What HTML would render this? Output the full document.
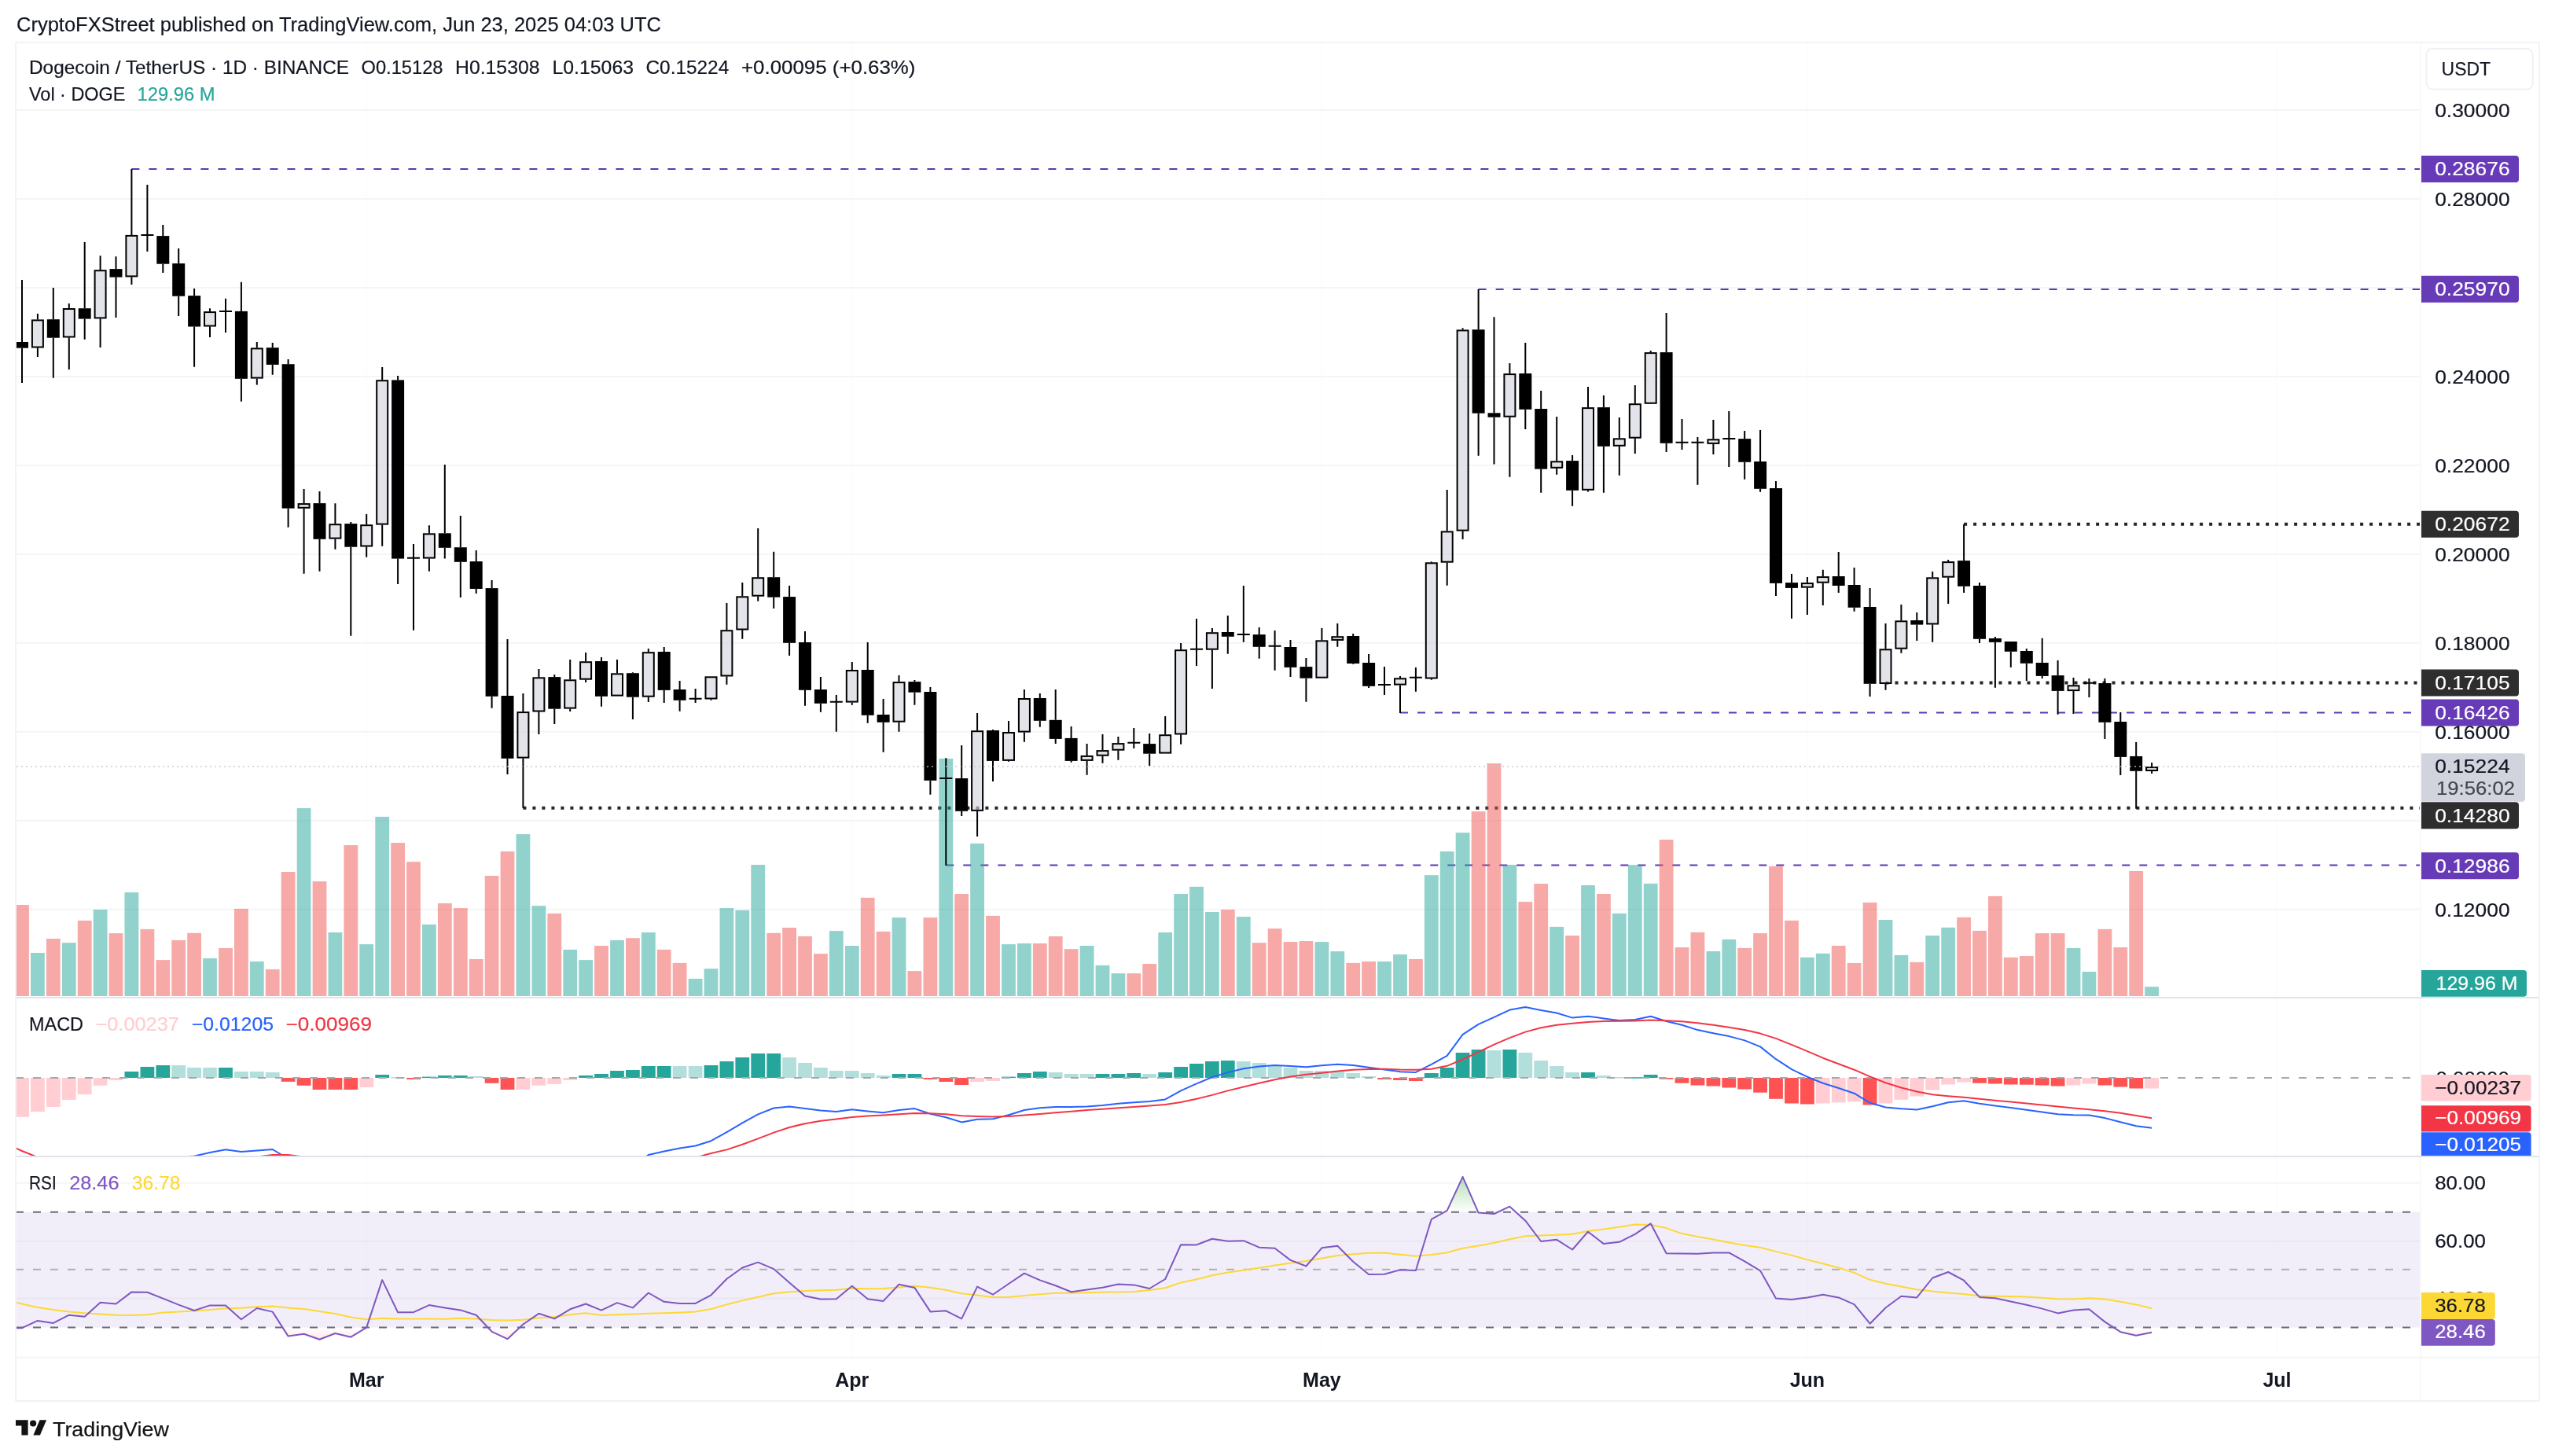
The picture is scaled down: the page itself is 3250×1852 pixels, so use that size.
<!DOCTYPE html>
<html lang="en"><head><meta charset="utf-8"><title>DOGEUSDT chart</title>
<style>html,body{margin:0;padding:0;background:#fff;}body{width:3250px;height:1852px;overflow:hidden;font-family:"Liberation Sans", sans-serif;}svg{display:block;will-change:transform;}text{font-family:"Liberation Sans", sans-serif;}</style>
</head><body>
<svg width="3250" height="1852" viewBox="0 0 3250 1852">
<rect x="0" y="0" width="3250" height="1852" fill="#ffffff"/>
<defs>
<clipPath id="cpMain"><rect x="20" y="54" width="3059" height="1215"/></clipPath>
<clipPath id="cpMacd"><rect x="20" y="1270" width="3059" height="200"/></clipPath>
<clipPath id="cpRsi"><rect x="20" y="1472" width="3059" height="254"/></clipPath>
<clipPath id="cpAxMacd"><rect x="3079" y="1270" width="151" height="200"/></clipPath>
<linearGradient id="gOB" gradientUnits="userSpaceOnUse" x1="0" y1="1436" x2="0" y2="1541.8"><stop offset="0" stop-color="#4caf50" stop-opacity="1"/><stop offset="1" stop-color="#4caf50" stop-opacity="0"/></linearGradient>
<linearGradient id="gOS" gradientUnits="userSpaceOnUse" x1="0" y1="1688.6" x2="0" y2="1798.7"><stop offset="0" stop-color="#ff5252" stop-opacity="0"/><stop offset="1" stop-color="#ff5252" stop-opacity="1"/></linearGradient>
</defs>
<text x="21" y="39.7" font-size="25" fill="#131722" stroke="#131722" stroke-width="0.2" textLength="820" lengthAdjust="spacingAndGlyphs">CryptoFXStreet published on TradingView.com, Jun 23, 2025 04:03 UTC</text>
<g stroke="#fcfcfd" stroke-width="2" fill="none">
<path d="M466.2 54 V1726"/>
<path d="M1083.8 54 V1726"/>
<path d="M1681.4 54 V1726"/>
<path d="M2298.9 54 V1726"/>
<path d="M2896.5 54 V1726"/>
</g>
<g stroke="#f5f5f7" stroke-width="2" fill="none">
<path d="M20 140 H3079"/>
<path d="M20 253 H3079"/>
<path d="M20 365.9 H3079"/>
<path d="M20 478.9 H3079"/>
<path d="M20 591.9 H3079"/>
<path d="M20 704.9 H3079"/>
<path d="M20 817.8 H3079"/>
<path d="M20 930.8 H3079"/>
<path d="M20 1043.8 H3079"/>
<path d="M20 1156.7 H3079"/>
<path d="M20 1504.7 H3079"/>
<path d="M20 1578.8 H3079"/>
<path d="M20 1651.6 H3079"/>
</g>
<rect x="20" y="1541.8" width="3059" height="146.8" fill="#7e57c2" fill-opacity="0.1"/>
<g clip-path="url(#cpMain)">
<g stroke="#5e35b1" stroke-width="2" stroke-dasharray="10 12" fill="none">
<path d="M167.4 215 H3079"/>
<path d="M1880.6 368 H3079"/>
<path d="M1781 906.5 H3079"/>
<path d="M1203.3 1100.5 H3079"/>
</g>
<g stroke="#262626" stroke-width="4" stroke-dasharray="4 8" fill="none">
<path d="M2498.1 666.8 H3079"/>
<path d="M2398.5 868.5 H3079"/>
<path d="M665.4 1027.8 H3079"/>
</g>
<g fill="#ef5350" fill-opacity="0.5">
<rect x="19.1" y="1151" width="17.8" height="116"/>
<rect x="58.9" y="1194" width="17.8" height="73"/>
<rect x="98.8" y="1171" width="17.8" height="96"/>
<rect x="138.6" y="1187.1" width="17.8" height="79.9"/>
<rect x="178.5" y="1181.9" width="17.8" height="85.1"/>
<rect x="198.4" y="1221.1" width="17.8" height="45.9"/>
<rect x="218.3" y="1195.9" width="17.8" height="71.1"/>
<rect x="238.2" y="1186.8" width="17.8" height="80.2"/>
<rect x="278.1" y="1206" width="17.8" height="61"/>
<rect x="298" y="1155.9" width="17.8" height="111.1"/>
<rect x="337.8" y="1232.9" width="17.8" height="34.1"/>
<rect x="357.7" y="1109" width="17.8" height="158"/>
<rect x="397.6" y="1121.1" width="17.8" height="145.9"/>
<rect x="437.4" y="1075.1" width="17.8" height="191.9"/>
<rect x="497.2" y="1072.1" width="17.8" height="194.9"/>
<rect x="517.1" y="1096.2" width="17.8" height="170.8"/>
<rect x="556.9" y="1149" width="17.8" height="118"/>
<rect x="576.9" y="1155.1" width="17.8" height="111.9"/>
<rect x="596.8" y="1220" width="17.8" height="47"/>
<rect x="616.7" y="1114" width="17.8" height="153"/>
<rect x="636.6" y="1083" width="17.8" height="184"/>
<rect x="696.4" y="1161.9" width="17.8" height="105.1"/>
<rect x="756.1" y="1203" width="17.8" height="64"/>
<rect x="796" y="1193.2" width="17.8" height="73.8"/>
<rect x="835.8" y="1207.9" width="17.8" height="59.1"/>
<rect x="855.7" y="1224.9" width="17.8" height="42.1"/>
<rect x="975.3" y="1186.8" width="17.8" height="80.2"/>
<rect x="995.2" y="1180" width="17.8" height="87"/>
<rect x="1015.1" y="1191" width="17.8" height="76"/>
<rect x="1035" y="1213.2" width="17.8" height="53.8"/>
<rect x="1094.8" y="1141.9" width="17.8" height="125.1"/>
<rect x="1114.7" y="1184.9" width="17.8" height="82.1"/>
<rect x="1154.5" y="1235.1" width="17.8" height="31.9"/>
<rect x="1174.5" y="1167.1" width="17.8" height="99.9"/>
<rect x="1214.3" y="1137" width="17.8" height="130"/>
<rect x="1254.1" y="1164.9" width="17.8" height="102.1"/>
<rect x="1313.9" y="1200" width="17.8" height="67"/>
<rect x="1333.8" y="1191" width="17.8" height="76"/>
<rect x="1353.7" y="1207.1" width="17.8" height="59.9"/>
<rect x="1433.4" y="1238.1" width="17.8" height="28.9"/>
<rect x="1453.3" y="1226" width="17.8" height="41"/>
<rect x="1552.9" y="1157" width="17.8" height="110"/>
<rect x="1592.8" y="1199.2" width="17.8" height="67.8"/>
<rect x="1612.7" y="1181.1" width="17.8" height="85.9"/>
<rect x="1632.6" y="1198.1" width="17.8" height="68.9"/>
<rect x="1652.5" y="1197" width="17.8" height="70"/>
<rect x="1712.3" y="1224.9" width="17.8" height="42.1"/>
<rect x="1732.2" y="1223" width="17.8" height="44"/>
<rect x="1792" y="1220" width="17.8" height="47"/>
<rect x="1871.7" y="1032.1" width="17.8" height="234.9"/>
<rect x="1891.6" y="971" width="17.8" height="296"/>
<rect x="1931.4" y="1147.1" width="17.8" height="119.9"/>
<rect x="1951.3" y="1124.1" width="17.8" height="142.9"/>
<rect x="1991.2" y="1190.1" width="17.8" height="76.9"/>
<rect x="2031" y="1137" width="17.8" height="130"/>
<rect x="2110.7" y="1068" width="17.8" height="199"/>
<rect x="2130.6" y="1205" width="17.8" height="62"/>
<rect x="2150.5" y="1185.9" width="17.8" height="81.1"/>
<rect x="2210.3" y="1205.9" width="17.8" height="61.1"/>
<rect x="2230.2" y="1187.1" width="17.8" height="79.9"/>
<rect x="2250.1" y="1101.9" width="17.8" height="165.1"/>
<rect x="2270.1" y="1170.9" width="17.8" height="96.1"/>
<rect x="2329.8" y="1203" width="17.8" height="64"/>
<rect x="2349.7" y="1225" width="17.8" height="42"/>
<rect x="2369.7" y="1148" width="17.8" height="119"/>
<rect x="2429.4" y="1223.9" width="17.8" height="43.1"/>
<rect x="2489.2" y="1166.8" width="17.8" height="100.2"/>
<rect x="2509.1" y="1183.9" width="17.8" height="83.1"/>
<rect x="2529" y="1139.9" width="17.8" height="127.1"/>
<rect x="2548.9" y="1217.8" width="17.8" height="49.2"/>
<rect x="2568.9" y="1216" width="17.8" height="51"/>
<rect x="2588.8" y="1187.1" width="17.8" height="79.9"/>
<rect x="2608.7" y="1187.1" width="17.8" height="79.9"/>
<rect x="2668.5" y="1181.9" width="17.8" height="85.1"/>
<rect x="2688.4" y="1205" width="17.8" height="62"/>
<rect x="2708.3" y="1108" width="17.8" height="159"/>
</g>
<g fill="#26a69a" fill-opacity="0.5">
<rect x="39" y="1212" width="17.8" height="55"/>
<rect x="78.9" y="1199.2" width="17.8" height="67.8"/>
<rect x="118.7" y="1157" width="17.8" height="110"/>
<rect x="158.5" y="1135.1" width="17.8" height="131.9"/>
<rect x="258.1" y="1218.9" width="17.8" height="48.1"/>
<rect x="317.9" y="1223" width="17.8" height="44"/>
<rect x="377.7" y="1027.9" width="17.8" height="239.1"/>
<rect x="417.5" y="1186" width="17.8" height="81"/>
<rect x="457.3" y="1201.1" width="17.8" height="65.9"/>
<rect x="477.3" y="1038.9" width="17.8" height="228.1"/>
<rect x="537" y="1175.9" width="17.8" height="91.1"/>
<rect x="656.5" y="1061.1" width="17.8" height="205.9"/>
<rect x="676.5" y="1152.1" width="17.8" height="114.9"/>
<rect x="716.3" y="1207.9" width="17.8" height="59.1"/>
<rect x="736.2" y="1221.1" width="17.8" height="45.9"/>
<rect x="776.1" y="1195.9" width="17.8" height="71.1"/>
<rect x="815.9" y="1186" width="17.8" height="81"/>
<rect x="875.7" y="1244.9" width="17.8" height="22.1"/>
<rect x="895.6" y="1232.1" width="17.8" height="34.9"/>
<rect x="915.5" y="1155.1" width="17.8" height="111.9"/>
<rect x="935.4" y="1157.8" width="17.8" height="109.2"/>
<rect x="955.3" y="1100" width="17.8" height="167"/>
<rect x="1054.9" y="1184.1" width="17.8" height="82.9"/>
<rect x="1074.9" y="1203" width="17.8" height="64"/>
<rect x="1134.6" y="1167.1" width="17.8" height="99.9"/>
<rect x="1194.4" y="964.9" width="17.8" height="302.1"/>
<rect x="1234.2" y="1072.9" width="17.8" height="194.1"/>
<rect x="1274.1" y="1201.1" width="17.8" height="65.9"/>
<rect x="1294" y="1200" width="17.8" height="67"/>
<rect x="1373.7" y="1203" width="17.8" height="64"/>
<rect x="1393.6" y="1227.9" width="17.8" height="39.1"/>
<rect x="1413.5" y="1238.1" width="17.8" height="28.9"/>
<rect x="1473.3" y="1186" width="17.8" height="81"/>
<rect x="1493.2" y="1137" width="17.8" height="130"/>
<rect x="1513.1" y="1127.9" width="17.8" height="139.1"/>
<rect x="1533" y="1160" width="17.8" height="107"/>
<rect x="1572.9" y="1166" width="17.8" height="101"/>
<rect x="1672.5" y="1198.1" width="17.8" height="68.9"/>
<rect x="1692.4" y="1210.1" width="17.8" height="56.9"/>
<rect x="1752.1" y="1223" width="17.8" height="44"/>
<rect x="1772.1" y="1214" width="17.8" height="53"/>
<rect x="1811.9" y="1113.2" width="17.8" height="153.8"/>
<rect x="1831.8" y="1083" width="17.8" height="184"/>
<rect x="1851.7" y="1059.2" width="17.8" height="207.8"/>
<rect x="1911.5" y="1100" width="17.8" height="167"/>
<rect x="1971.3" y="1178.9" width="17.8" height="88.1"/>
<rect x="2011.1" y="1126" width="17.8" height="141"/>
<rect x="2050.9" y="1161.9" width="17.8" height="105.1"/>
<rect x="2070.9" y="1100.2" width="17.8" height="166.8"/>
<rect x="2090.8" y="1123.9" width="17.8" height="143.1"/>
<rect x="2170.5" y="1210" width="17.8" height="57"/>
<rect x="2190.4" y="1194.9" width="17.8" height="72.1"/>
<rect x="2290" y="1217.8" width="17.8" height="49.2"/>
<rect x="2309.9" y="1212.8" width="17.8" height="54.2"/>
<rect x="2389.6" y="1170" width="17.8" height="97"/>
<rect x="2409.5" y="1214.9" width="17.8" height="52.1"/>
<rect x="2449.3" y="1190" width="17.8" height="77"/>
<rect x="2469.3" y="1179.8" width="17.8" height="87.2"/>
<rect x="2628.6" y="1205.9" width="17.8" height="61.1"/>
<rect x="2648.5" y="1236" width="17.8" height="31"/>
<rect x="2728.2" y="1255.1" width="17.8" height="11.9"/>
</g>
<g stroke="#000" stroke-width="2" fill="none">
<path d="M28 356.1 V435M28 442.7 V486.9"/>
<path d="M47.9 399 V406.6M47.9 442.3 V454"/>
<path d="M67.8 366 V406.2M67.8 429.7 V480.8"/>
<path d="M87.8 386 V392.2M87.8 429.3 V470"/>
<path d="M107.7 308.1 V392.2M107.7 405.6 V431.7"/>
<path d="M127.6 325.2 V343.4M127.6 405.2 V442"/>
<path d="M147.5 326.3 V342.1M147.5 352.6 V404"/>
<path d="M167.4 215 V299.1M167.4 352.2 V362"/>
<path d="M187.4 235 V320 M179.4 298.9 H195.4"/>
<path d="M207.3 286 V300.1M207.3 335.7 V346.9"/>
<path d="M227.2 316 V335.1M227.2 376.7 V402"/>
<path d="M247.1 367 V376.1M247.1 415.5 V466.8"/>
<path d="M267 392.2 V396.3M267 415.3 V428.9"/>
<path d="M287 379.8 V423 M279 395.9 H295"/>
<path d="M306.9 358.8 V395.9M306.9 481.8 V510.8"/>
<path d="M326.8 435 V442.6M326.8 481.4 V489.6"/>
<path d="M346.7 436 V442.2M346.7 463.9 V476.8"/>
<path d="M366.6 457 V463.2M366.6 646.6 V670.7"/>
<path d="M386.6 622 V640.3M386.6 646.6 V729.8"/>
<path d="M406.5 625 V640.1M406.5 685.8 V726.7"/>
<path d="M426.4 640.2 V666.4M426.4 685.4 V698.7"/>
<path d="M446.3 664 V666.1M446.3 695.7 V808.7"/>
<path d="M466.2 654.1 V667.4M466.2 695.3 V708.8"/>
<path d="M486.2 467 V483.4M486.2 667.4 V694.7"/>
<path d="M506.1 478 V483.4M506.1 710.6 V743"/>
<path d="M526 692.1 V801.7 M518 709.8 H534"/>
<path d="M545.9 668.2 V678.5M545.9 710.4 V726.7"/>
<path d="M565.8 591 V678.3M565.8 696.8 V710.6"/>
<path d="M585.8 656 V696.2M585.8 714.8 V759.9"/>
<path d="M605.7 700.1 V714.1M605.7 749 V754.9"/>
<path d="M625.6 738 V748.1M625.6 885.8 V900.7"/>
<path d="M645.5 813 V885M645.5 964.8 V985"/>
<path d="M665.4 882 V905.3M665.4 964.4 V1027.8"/>
<path d="M685.4 851 V861.5M685.4 905.3 V933.9"/>
<path d="M705.3 858 V861.1M705.3 901.7 V920.9"/>
<path d="M725.2 839 V864.5M725.2 901.4 V904.9"/>
<path d="M745.1 830 V841.4M745.1 864.5 V867.9"/>
<path d="M765 836 V841M765 885.8 V898.8"/>
<path d="M785 839 V856.5"/>
<path d="M804.9 855.2 V856.2M804.9 886.7 V914.9"/>
<path d="M824.8 824.9 V829.4M824.8 886.5 V892.9"/>
<path d="M844.7 823 V829M844.7 877.9 V893.9"/>
<path d="M864.6 866.1 V877M864.6 890.8 V904.8"/>
<path d="M884.6 876 V893.9 M876.6 888.8 H892.6"/>
<path d="M904.5 889.3 V890.8"/>
<path d="M924.4 767.1 V801.4M924.4 860.3 V870.8"/>
<path d="M944.3 741 V758.5M944.3 801.3 V812.8"/>
<path d="M964.2 672 V734.4M964.2 758.5 V764.8"/>
<path d="M984.2 701.8 V734.2M984.2 759.7 V773.9"/>
<path d="M1004.1 745.1 V759.1M1004.1 817.8 V833.9"/>
<path d="M1024 803 V817M1024 877.8 V897.8"/>
<path d="M1043.9 861.1 V877M1043.9 894.8 V905.8"/>
<path d="M1063.8 884.1 V930.7 M1055.8 892.8 H1071.8"/>
<path d="M1083.8 842.1 V852.2M1083.8 893.4 V896.7"/>
<path d="M1103.7 817 V852M1103.7 909.8 V919.8"/>
<path d="M1123.6 889 V909M1123.6 918.8 V956.8"/>
<path d="M1143.5 859 V867.3M1143.5 918.5 V930.8"/>
<path d="M1163.4 865 V867.1M1163.4 880.7 V896.8"/>
<path d="M1183.4 874 V880M1183.4 992.8 V1010.8"/>
<path d="M1203.3 964.2 V1100.8 M1195.3 990 H1211.3"/>
<path d="M1223.2 947.9 V990M1223.2 1031.8 V1038"/>
<path d="M1243.1 906.9 V929.4M1243.1 1031.6 V1063.9"/>
<path d="M1263 928 V929M1263 967.9 V993.9"/>
<path d="M1283 916.9 V931.2M1283 967.7 V968.7"/>
<path d="M1302.9 877.1 V888.2M1302.9 931.4 V943.8"/>
<path d="M1322.8 882 V888M1322.8 916.8 V924.8"/>
<path d="M1342.7 877.1 V915.8M1342.7 939.9 V945.9"/>
<path d="M1362.6 924 V938.9M1362.6 967.9 V969.8"/>
<path d="M1382.6 945.9 V961.1M1382.6 967.7 V985.8"/>
<path d="M1402.5 933.9 V954.3M1402.5 961.5 V970.8"/>
<path d="M1422.4 937 V945.3M1422.4 954.5 V966.7"/>
<path d="M1442.3 925.9 V951.9 M1434.3 944.8 H1450.3"/>
<path d="M1462.2 933 V946.1M1462.2 958.7 V973.9"/>
<path d="M1482.2 911 V934.4"/>
<path d="M1502.1 818 V826.4M1502.1 934.3 V946.8"/>
<path d="M1522 786.9 V846.9 M1514 825.8 H1530"/>
<path d="M1541.9 799.1 V804.4M1541.9 826.5 V875.9"/>
<path d="M1561.8 783 V804M1561.8 809.8 V831.8"/>
<path d="M1581.8 744.9 V816.8 M1573.8 806.9 H1589.8"/>
<path d="M1601.7 798 V807.1M1601.7 822.8 V837.8"/>
<path d="M1621.6 802 V852.8 M1613.6 821.7 H1629.6"/>
<path d="M1641.5 813.9 V823M1641.5 848.9 V860.9"/>
<path d="M1661.4 837 V848.1M1661.4 862.7 V892.8"/>
<path d="M1681.4 798.9 V814.5"/>
<path d="M1701.3 792.9 V809.4M1701.3 814.7 V822.8"/>
<path d="M1721.2 806.1 V809M1721.2 844 V844.8"/>
<path d="M1741.1 832 V843M1741.1 872.8 V874.9"/>
<path d="M1761 847.9 V884 M1753 871 H1769"/>
<path d="M1781 860.1 V862.5M1781 871.4 V907"/>
<path d="M1800.9 848.9 V879.8 M1792.9 861.7 H1808.9"/>
<path d="M1820.8 714.2 V715.5M1820.8 863.3 V864.8"/>
<path d="M1840.7 623.1 V675.6M1840.7 715.5 V744.8"/>
<path d="M1860.6 417.2 V419.6M1860.6 675.4 V685.9"/>
<path d="M1880.6 368.1 V419.2M1880.6 525.7 V579.7"/>
<path d="M1900.5 403.2 V525.3M1900.5 530.7 V590.6"/>
<path d="M1920.4 461.9 V475.3M1920.4 530.5 V606.7"/>
<path d="M1940.3 435.9 V475M1940.3 520.8 V545.9"/>
<path d="M1960.2 496.9 V520M1960.2 596.6 V626.7"/>
<path d="M1980.2 529.9 V586.5M1980.2 595.6 V603.8"/>
<path d="M2000.1 579.1 V586.1M2000.1 623.8 V643.8"/>
<path d="M2020 491.9 V518.3M2020 623.6 V625.6"/>
<path d="M2039.9 502.9 V518.1M2039.9 567.8 V626.7"/>
<path d="M2059.8 530.9 V557.5M2059.8 567.6 V604.8"/>
<path d="M2079.8 489.9 V513.4M2079.8 557.5 V577"/>
<path d="M2099.7 446 V448.3"/>
<path d="M2119.6 398 V448.1M2119.6 563.8 V575"/>
<path d="M2139.5 532.9 V571.9 M2131.5 562.8 H2147.5"/>
<path d="M2159.4 556 V616.8 M2151.4 562.8 H2167.4"/>
<path d="M2179.4 534 V558.5M2179.4 564.7 V577.9"/>
<path d="M2199.3 523.1 V593.9 M2191.3 557.9 H2207.3"/>
<path d="M2219.2 548 V558.1M2219.2 587.8 V609.7"/>
<path d="M2239.1 547 V587M2239.1 621.8 V625.8"/>
<path d="M2259 611.9 V621M2259 741.9 V758"/>
<path d="M2279 730 V741.1M2279 747.9 V786.8"/>
<path d="M2298.9 733.9 V741.3M2298.9 747.5 V781.9"/>
<path d="M2318.8 724.8 V733.3M2318.8 741.5 V769.9"/>
<path d="M2338.7 701.9 V733M2338.7 745 V753.9"/>
<path d="M2358.6 721.9 V744M2358.6 772.8 V777.8"/>
<path d="M2378.6 747.9 V772M2378.6 869.8 V885.9"/>
<path d="M2398.5 793 V825.5M2398.5 869.8 V877.8"/>
<path d="M2418.4 769 V789.5M2418.4 825.5 V830.8"/>
<path d="M2438.3 779 V789M2438.3 794.6 V814.9"/>
<path d="M2458.2 726.9 V734.5M2458.2 794.3 V816.8"/>
<path d="M2478.2 712 V714.3M2478.2 734.5 V768"/>
<path d="M2498.1 666.9 V713.1M2498.1 745.8 V753.9"/>
<path d="M2518 740.9 V745M2518 812.8 V817.9"/>
<path d="M2537.9 810 V812M2537.9 816.9 V874.7"/>
<path d="M2557.8 828.8 V848.9"/>
<path d="M2577.8 825 V828M2577.8 843.8 V865.9"/>
<path d="M2597.7 811.8 V843M2597.7 859.9 V863"/>
<path d="M2617.6 839.9 V859.1M2617.6 878.9 V908.7"/>
<path d="M2637.5 862 V871.5M2637.5 878.9 V907.9"/>
<path d="M2657.4 863 V886.9 M2649.4 868.8 H2665.4"/>
<path d="M2677.4 863 V869M2677.4 918.8 V939.9"/>
<path d="M2697.3 906.1 V918M2697.3 962.9 V986"/>
<path d="M2717.2 944 V961.9M2717.2 980.8 V1028.8"/>
<path d="M2737.1 969.9 V975.3M2737.1 980.8 V983.9"/>
</g>
<g fill="#000">
<rect x="20" y="435" width="16" height="7.7"/>
<rect x="59.8" y="406.2" width="16" height="23.5"/>
<rect x="99.7" y="392.2" width="16" height="13.4"/>
<rect x="139.5" y="342.1" width="16" height="10.5"/>
<rect x="199.3" y="300.1" width="16" height="35.6"/>
<rect x="219.2" y="335.1" width="16" height="41.6"/>
<rect x="239.1" y="376.1" width="16" height="39.4"/>
<rect x="298.9" y="395.9" width="16" height="85.9"/>
<rect x="338.7" y="442.2" width="16" height="21.7"/>
<rect x="358.6" y="463.2" width="16" height="183.4"/>
<rect x="398.5" y="640.1" width="16" height="45.7"/>
<rect x="438.3" y="666.1" width="16" height="29.6"/>
<rect x="498.1" y="483.4" width="16" height="227.2"/>
<rect x="557.8" y="678.3" width="16" height="18.5"/>
<rect x="577.8" y="696.2" width="16" height="18.6"/>
<rect x="597.7" y="714.1" width="16" height="34.9"/>
<rect x="617.6" y="748.1" width="16" height="137.7"/>
<rect x="637.5" y="885" width="16" height="79.8"/>
<rect x="697.3" y="861.1" width="16" height="40.6"/>
<rect x="757" y="841" width="16" height="44.8"/>
<rect x="796.9" y="856.2" width="16" height="30.5"/>
<rect x="836.7" y="829" width="16" height="48.9"/>
<rect x="856.6" y="877" width="16" height="13.8"/>
<rect x="976.2" y="734.2" width="16" height="25.5"/>
<rect x="996.1" y="759.1" width="16" height="58.7"/>
<rect x="1016" y="817" width="16" height="60.8"/>
<rect x="1035.9" y="877" width="16" height="17.8"/>
<rect x="1095.7" y="852" width="16" height="57.8"/>
<rect x="1115.6" y="909" width="16" height="9.8"/>
<rect x="1155.4" y="867.1" width="16" height="13.6"/>
<rect x="1175.4" y="880" width="16" height="112.8"/>
<rect x="1215.2" y="990" width="16" height="41.8"/>
<rect x="1255" y="929" width="16" height="38.9"/>
<rect x="1314.8" y="888" width="16" height="28.8"/>
<rect x="1334.7" y="915.8" width="16" height="24.1"/>
<rect x="1354.6" y="938.9" width="16" height="29"/>
<rect x="1454.2" y="946.1" width="16" height="12.6"/>
<rect x="1553.8" y="804" width="16" height="5.8"/>
<rect x="1593.7" y="807.1" width="16" height="15.7"/>
<rect x="1633.5" y="823" width="16" height="25.9"/>
<rect x="1653.4" y="848.1" width="16" height="14.6"/>
<rect x="1713.2" y="809" width="16" height="35"/>
<rect x="1733.1" y="843" width="16" height="29.8"/>
<rect x="1872.6" y="419.2" width="16" height="106.5"/>
<rect x="1892.5" y="525.3" width="16" height="5.4"/>
<rect x="1932.3" y="475" width="16" height="45.8"/>
<rect x="1952.2" y="520" width="16" height="76.6"/>
<rect x="1992.1" y="586.1" width="16" height="37.7"/>
<rect x="2031.9" y="518.1" width="16" height="49.7"/>
<rect x="2111.6" y="448.1" width="16" height="115.7"/>
<rect x="2211.2" y="558.1" width="16" height="29.7"/>
<rect x="2231.1" y="587" width="16" height="34.8"/>
<rect x="2251" y="621" width="16" height="120.9"/>
<rect x="2271" y="741.1" width="16" height="6.8"/>
<rect x="2330.7" y="733" width="16" height="12"/>
<rect x="2350.6" y="744" width="16" height="28.8"/>
<rect x="2370.6" y="772" width="16" height="97.8"/>
<rect x="2430.3" y="789" width="16" height="5.6"/>
<rect x="2490.1" y="713.1" width="16" height="32.7"/>
<rect x="2510" y="745" width="16" height="67.8"/>
<rect x="2529.9" y="812" width="16" height="4.9"/>
<rect x="2549.8" y="816" width="16" height="12.8"/>
<rect x="2569.8" y="828" width="16" height="15.8"/>
<rect x="2589.7" y="843" width="16" height="16.9"/>
<rect x="2609.6" y="859.1" width="16" height="19.8"/>
<rect x="2669.4" y="869" width="16" height="49.8"/>
<rect x="2689.3" y="918" width="16" height="44.9"/>
<rect x="2709.2" y="961.9" width="16" height="18.9"/>
</g>
<g fill="#d1d4dc" fill-opacity="0.62" stroke="#000" stroke-width="2">
<rect x="40.9" y="407.4" width="14" height="34.1"/>
<rect x="80.8" y="393" width="14" height="35.5"/>
<rect x="120.6" y="344.2" width="14" height="60.2"/>
<rect x="160.4" y="299.9" width="14" height="51.5"/>
<rect x="260" y="397.1" width="14" height="17.4"/>
<rect x="319.8" y="443.4" width="14" height="37.2"/>
<rect x="379.6" y="641.1" width="14" height="4.7"/>
<rect x="419.4" y="667.2" width="14" height="17.4"/>
<rect x="459.2" y="668.2" width="14" height="26.3"/>
<rect x="479.2" y="484.2" width="14" height="182.4"/>
<rect x="538.9" y="679.3" width="14" height="30.3"/>
<rect x="658.4" y="906.1" width="14" height="57.5"/>
<rect x="678.4" y="862.3" width="14" height="42.2"/>
<rect x="718.2" y="865.3" width="14" height="35.3"/>
<rect x="738.1" y="842.2" width="14" height="21.5"/>
<rect x="778" y="857.3" width="14" height="27.3"/>
<rect x="817.8" y="830.2" width="14" height="55.5"/>
<rect x="897.5" y="861.3" width="14" height="27.2"/>
<rect x="917.4" y="802.2" width="14" height="57.3"/>
<rect x="937.3" y="759.3" width="14" height="41.2"/>
<rect x="957.2" y="735.2" width="14" height="22.5"/>
<rect x="1076.8" y="853" width="14" height="39.6"/>
<rect x="1136.5" y="868.1" width="14" height="49.6"/>
<rect x="1236.1" y="930.2" width="14" height="100.6"/>
<rect x="1276" y="932" width="14" height="34.9"/>
<rect x="1295.9" y="889" width="14" height="41.6"/>
<rect x="1375.6" y="961.9" width="14" height="5"/>
<rect x="1395.5" y="955.1" width="14" height="5.6"/>
<rect x="1415.4" y="946.1" width="14" height="7.6"/>
<rect x="1475.2" y="935.2" width="14" height="22.4"/>
<rect x="1495.1" y="827.2" width="14" height="106.3"/>
<rect x="1534.9" y="805.2" width="14" height="20.5"/>
<rect x="1674.4" y="815.3" width="14" height="46.4"/>
<rect x="1694.3" y="810.2" width="14" height="3.7"/>
<rect x="1774" y="863.3" width="14" height="7.3"/>
<rect x="1813.8" y="716.3" width="14" height="146.2"/>
<rect x="1833.7" y="676.4" width="14" height="38.3"/>
<rect x="1853.6" y="420.4" width="14" height="254.2"/>
<rect x="1913.4" y="476.1" width="14" height="53.6"/>
<rect x="1973.2" y="587.3" width="14" height="7.5"/>
<rect x="2013" y="519.1" width="14" height="103.7"/>
<rect x="2052.8" y="558.3" width="14" height="8.5"/>
<rect x="2072.8" y="514.2" width="14" height="42.5"/>
<rect x="2092.7" y="449.1" width="14" height="63.7"/>
<rect x="2172.4" y="559.3" width="14" height="4.6"/>
<rect x="2291.9" y="742.1" width="14" height="4.6"/>
<rect x="2311.8" y="734.1" width="14" height="6.6"/>
<rect x="2391.5" y="826.3" width="14" height="42.7"/>
<rect x="2411.4" y="790.3" width="14" height="34.4"/>
<rect x="2451.2" y="735.3" width="14" height="58.2"/>
<rect x="2471.2" y="715.1" width="14" height="18.6"/>
<rect x="2630.5" y="872.3" width="14" height="5.8"/>
<rect x="2730.1" y="976.1" width="14" height="3.9"/>
</g>
<path d="M21 975 H3079" stroke="#c1c4cd" stroke-opacity="0.65" stroke-width="2" stroke-dasharray="2 4" fill="none"/>
</g>
<g clip-path="url(#cpMacd)">
<g fill="#ffcdd2">
<rect x="19.1" y="1371" width="17.8" height="49.8"/>
<rect x="39" y="1371" width="17.8" height="43"/>
<rect x="58.9" y="1371" width="17.8" height="37"/>
<rect x="78.9" y="1371" width="17.8" height="27.9"/>
<rect x="98.8" y="1371" width="17.8" height="21"/>
<rect x="118.7" y="1371" width="17.8" height="9.8"/>
<rect x="138.6" y="1371" width="17.8" height="3"/>
<rect x="457.3" y="1371" width="17.8" height="12"/>
<rect x="656.5" y="1371" width="17.8" height="15"/>
<rect x="676.5" y="1371" width="17.8" height="9.8"/>
<rect x="696.4" y="1371" width="17.8" height="8"/>
<rect x="716.3" y="1371" width="17.8" height="3"/>
<rect x="1234.2" y="1371" width="17.8" height="5"/>
<rect x="1254.1" y="1371" width="17.8" height="4"/>
<rect x="2309.9" y="1371" width="17.8" height="32.5"/>
<rect x="2329.8" y="1371" width="17.8" height="31.3"/>
<rect x="2349.7" y="1371" width="17.8" height="30.3"/>
<rect x="2389.6" y="1371" width="17.8" height="32.5"/>
<rect x="2409.5" y="1371" width="17.8" height="27.8"/>
<rect x="2429.4" y="1371" width="17.8" height="23.5"/>
<rect x="2449.3" y="1371" width="17.8" height="15.5"/>
<rect x="2469.3" y="1371" width="17.8" height="8.5"/>
<rect x="2489.2" y="1371" width="17.8" height="5.5"/>
<rect x="2628.6" y="1371" width="17.8" height="9.5"/>
<rect x="2648.5" y="1371" width="17.8" height="7.5"/>
<rect x="2728.2" y="1371" width="17.8" height="13.5"/>
</g>
<g fill="#b2dfdb">
<rect x="218.3" y="1355" width="17.8" height="16"/>
<rect x="238.2" y="1358" width="17.8" height="13"/>
<rect x="258.1" y="1358" width="17.8" height="13"/>
<rect x="298" y="1363" width="17.8" height="8"/>
<rect x="317.9" y="1363" width="17.8" height="8"/>
<rect x="337.8" y="1364" width="17.8" height="7"/>
<rect x="497.2" y="1370" width="17.8" height="1.5"/>
<rect x="596.8" y="1369" width="17.8" height="2"/>
<rect x="855.7" y="1356" width="17.8" height="15"/>
<rect x="875.7" y="1356" width="17.8" height="15"/>
<rect x="995.2" y="1345" width="17.8" height="26"/>
<rect x="1015.1" y="1352" width="17.8" height="19"/>
<rect x="1035" y="1358" width="17.8" height="13"/>
<rect x="1054.9" y="1362" width="17.8" height="9"/>
<rect x="1074.9" y="1362" width="17.8" height="9"/>
<rect x="1094.8" y="1365" width="17.8" height="6"/>
<rect x="1114.7" y="1368" width="17.8" height="3"/>
<rect x="1333.8" y="1364" width="17.8" height="7"/>
<rect x="1353.7" y="1366" width="17.8" height="5"/>
<rect x="1373.7" y="1366" width="17.8" height="5"/>
<rect x="1453.3" y="1366" width="17.8" height="5"/>
<rect x="1572.9" y="1350" width="17.8" height="21"/>
<rect x="1592.8" y="1352" width="17.8" height="19"/>
<rect x="1612.7" y="1355" width="17.8" height="16"/>
<rect x="1632.6" y="1358" width="17.8" height="13"/>
<rect x="1652.5" y="1362" width="17.8" height="9"/>
<rect x="1672.5" y="1362" width="17.8" height="9"/>
<rect x="1692.4" y="1363" width="17.8" height="8"/>
<rect x="1712.3" y="1365" width="17.8" height="6"/>
<rect x="1732.2" y="1369" width="17.8" height="2"/>
<rect x="1891.6" y="1336" width="17.8" height="35"/>
<rect x="1931.4" y="1339" width="17.8" height="32"/>
<rect x="1951.3" y="1349" width="17.8" height="22"/>
<rect x="1971.3" y="1356" width="17.8" height="15"/>
<rect x="1991.2" y="1364" width="17.8" height="7"/>
<rect x="2031" y="1368" width="17.8" height="3"/>
<rect x="2050.9" y="1370" width="17.8" height="1.5"/>
</g>
<g fill="#ff5252">
<rect x="357.7" y="1371" width="17.8" height="4.9"/>
<rect x="377.7" y="1371" width="17.8" height="9.8"/>
<rect x="397.6" y="1371" width="17.8" height="15"/>
<rect x="417.5" y="1371" width="17.8" height="15"/>
<rect x="437.4" y="1371" width="17.8" height="15"/>
<rect x="517.1" y="1371" width="17.8" height="1.9"/>
<rect x="616.7" y="1371" width="17.8" height="6.8"/>
<rect x="636.6" y="1371" width="17.8" height="15"/>
<rect x="1174.5" y="1371" width="17.8" height="2"/>
<rect x="1194.4" y="1371" width="17.8" height="5"/>
<rect x="1214.3" y="1371" width="17.8" height="9"/>
<rect x="1752.1" y="1371" width="17.8" height="2"/>
<rect x="1772.1" y="1371" width="17.8" height="3"/>
<rect x="1792" y="1371" width="17.8" height="4"/>
<rect x="2110.7" y="1371" width="17.8" height="1.7"/>
<rect x="2130.6" y="1371" width="17.8" height="6.7"/>
<rect x="2150.5" y="1371" width="17.8" height="9.5"/>
<rect x="2170.5" y="1371" width="17.8" height="10.5"/>
<rect x="2190.4" y="1371" width="17.8" height="12.5"/>
<rect x="2210.3" y="1371" width="17.8" height="14.5"/>
<rect x="2230.2" y="1371" width="17.8" height="18.7"/>
<rect x="2250.1" y="1371" width="17.8" height="26.8"/>
<rect x="2270.1" y="1371" width="17.8" height="32.5"/>
<rect x="2290" y="1371" width="17.8" height="33.5"/>
<rect x="2369.7" y="1371" width="17.8" height="34.5"/>
<rect x="2509.1" y="1371" width="17.8" height="6.7"/>
<rect x="2529" y="1371" width="17.8" height="7.5"/>
<rect x="2548.9" y="1371" width="17.8" height="8.5"/>
<rect x="2568.9" y="1371" width="17.8" height="8.7"/>
<rect x="2588.8" y="1371" width="17.8" height="9.5"/>
<rect x="2608.7" y="1371" width="17.8" height="10.5"/>
<rect x="2668.5" y="1371" width="17.8" height="9.5"/>
<rect x="2688.4" y="1371" width="17.8" height="11.5"/>
<rect x="2708.3" y="1371" width="17.8" height="13.5"/>
</g>
<g fill="#26a69a">
<rect x="158.5" y="1363" width="17.8" height="8"/>
<rect x="178.5" y="1357" width="17.8" height="14"/>
<rect x="198.4" y="1355" width="17.8" height="16"/>
<rect x="278.1" y="1358" width="17.8" height="13"/>
<rect x="477.3" y="1367" width="17.8" height="4"/>
<rect x="537" y="1369.6" width="17.8" height="1.5"/>
<rect x="556.9" y="1368" width="17.8" height="3"/>
<rect x="576.9" y="1368" width="17.8" height="3"/>
<rect x="736.2" y="1368" width="17.8" height="3"/>
<rect x="756.1" y="1366" width="17.8" height="5"/>
<rect x="776.1" y="1362" width="17.8" height="9"/>
<rect x="796" y="1361" width="17.8" height="10"/>
<rect x="815.9" y="1356" width="17.8" height="15"/>
<rect x="835.8" y="1356" width="17.8" height="15"/>
<rect x="895.6" y="1355" width="17.8" height="16"/>
<rect x="915.5" y="1350" width="17.8" height="21"/>
<rect x="935.4" y="1345" width="17.8" height="26"/>
<rect x="955.3" y="1340" width="17.8" height="31"/>
<rect x="975.3" y="1340" width="17.8" height="31"/>
<rect x="1134.6" y="1366" width="17.8" height="5"/>
<rect x="1154.5" y="1366" width="17.8" height="5"/>
<rect x="1274.1" y="1369.6" width="17.8" height="1.5"/>
<rect x="1294" y="1365" width="17.8" height="6"/>
<rect x="1313.9" y="1363" width="17.8" height="8"/>
<rect x="1393.6" y="1366" width="17.8" height="5"/>
<rect x="1413.5" y="1366" width="17.8" height="5"/>
<rect x="1433.4" y="1365" width="17.8" height="6"/>
<rect x="1473.3" y="1364" width="17.8" height="7"/>
<rect x="1493.2" y="1357" width="17.8" height="14"/>
<rect x="1513.1" y="1353" width="17.8" height="18"/>
<rect x="1533" y="1350" width="17.8" height="21"/>
<rect x="1552.9" y="1349" width="17.8" height="22"/>
<rect x="1811.9" y="1365" width="17.8" height="6"/>
<rect x="1831.8" y="1358" width="17.8" height="13"/>
<rect x="1851.7" y="1339" width="17.8" height="32"/>
<rect x="1871.7" y="1335" width="17.8" height="36"/>
<rect x="1911.5" y="1335" width="17.8" height="36"/>
<rect x="2011.1" y="1364" width="17.8" height="7"/>
<rect x="2070.9" y="1370.2" width="17.8" height="1.5"/>
<rect x="2090.8" y="1367" width="17.8" height="4"/>
</g>
<path d="M20 1371 H3079" stroke="#a6a8af" stroke-width="2" stroke-dasharray="10 12" fill="none"/>
<path d="M28 1513.8 L47.9 1515 L67.8 1515 L87.8 1510.9 L107.7 1507 L127.6 1497.8 L147.5 1493 L167.4 1483 L187.4 1477 L207.3 1474 L227.2 1472 L247.1 1470.5 L267 1466 L287 1462.2 L306.9 1465 L326.8 1463.5 L346.7 1462 L366.6 1474 L386.6 1481.3 L406.5 1490 L426.4 1494 L446.3 1498 L466.2 1498 L486.2 1483 L506.1 1486 L526 1488.9 L545.9 1485.6 L565.8 1484 L585.8 1483 L605.7 1484 L625.6 1493.8 L645.5 1506 L665.4 1510 L685.4 1507.8 L705.3 1508 L725.2 1504 L745.1 1497 L765 1494 L785 1488 L804.9 1484 L824.8 1469 L844.7 1464.5 L864.6 1460.5 L884.6 1457.5 L904.5 1451.2 L924.4 1440.2 L944.3 1428.3 L964.2 1417.4 L984.2 1409.5 L1004.1 1407.4 L1024 1410 L1043.9 1412.6 L1063.8 1414 L1083.8 1411.3 L1103.7 1413.4 L1123.6 1415.3 L1143.5 1412 L1163.4 1410.1 L1183.4 1416.8 L1203.3 1421.2 L1223.2 1427.4 L1243.1 1423.8 L1263 1423.3 L1283 1418.2 L1302.9 1412 L1322.8 1409.3 L1342.7 1407.9 L1362.6 1407.9 L1382.6 1407.4 L1402.5 1406 L1422.4 1403.8 L1442.3 1402.2 L1462.2 1401.1 L1482.2 1398.4 L1502.1 1387.4 L1522 1378.4 L1541.9 1370.1 L1561.8 1364.1 L1581.8 1359.2 L1601.7 1356.4 L1621.6 1355.1 L1641.5 1355.9 L1661.4 1357.3 L1681.4 1355.3 L1701.3 1353.7 L1721.2 1355.1 L1741.1 1357.8 L1761 1360.5 L1781 1363.2 L1800.9 1363.9 L1820.8 1353.8 L1840.7 1342.8 L1860.6 1315.9 L1880.6 1302.9 L1900.5 1293.8 L1920.4 1284.6 L1940.3 1281 L1960.2 1284.9 L1980.2 1288.5 L2000.1 1294.6 L2020 1292.7 L2039.9 1295.4 L2059.8 1297.9 L2079.8 1297.1 L2099.7 1292.7 L2119.6 1299 L2139.5 1303.8 L2159.4 1310.1 L2179.4 1314.3 L2199.3 1318.1 L2219.2 1323.4 L2239.1 1331.4 L2259 1347.2 L2279 1360.2 L2298.9 1369.7 L2318.8 1377.7 L2338.7 1384 L2358.6 1390.7 L2378.6 1402.8 L2398.5 1408.5 L2418.4 1410.3 L2438.3 1411.5 L2458.2 1407.3 L2478.2 1402.3 L2498.1 1400.3 L2518 1403.8 L2537.9 1406.5 L2557.8 1409 L2577.8 1411.8 L2597.7 1414.5 L2617.6 1417.3 L2637.5 1418.3 L2657.4 1418.5 L2677.4 1422.1 L2697.3 1427.3 L2717.2 1432.3 L2737.1 1434.8" stroke="#2962ff" stroke-width="2" fill="none" stroke-linejoin="round"/>
<path d="M20 1460.5 L28 1464 L47.9 1472 L67.8 1478 L87.8 1483 L107.7 1486 L127.6 1488 L147.5 1490 L167.4 1491 L187.4 1491 L207.3 1490 L227.2 1488 L247.1 1483.5 L267 1479 L287 1475.2 L306.9 1473 L326.8 1471.5 L346.7 1469 L366.6 1469.1 L386.6 1471.5 L406.5 1475 L426.4 1479 L446.3 1483 L466.2 1486 L486.2 1487 L506.1 1487 L526 1487 L545.9 1487 L565.8 1487 L585.8 1486 L605.7 1486 L625.6 1487 L645.5 1491 L665.4 1495 L685.4 1498 L705.3 1500 L725.2 1501 L745.1 1500 L765 1499 L785 1497 L804.9 1494 L824.8 1484 L844.7 1479.5 L864.6 1475.5 L884.6 1472.5 L904.5 1467 L924.4 1462.4 L944.3 1455.8 L964.2 1448.4 L984.2 1440.6 L1004.1 1434 L1024 1429.2 L1043.9 1425.8 L1063.8 1423.5 L1083.8 1421 L1103.7 1419.4 L1123.6 1418.4 L1143.5 1417.3 L1163.4 1415.9 L1183.4 1416.2 L1203.3 1417.3 L1223.2 1419.2 L1243.1 1420 L1263 1420.5 L1283 1420 L1302.9 1418.6 L1322.8 1417 L1342.7 1415.3 L1362.6 1413.8 L1382.6 1412 L1402.5 1410.7 L1422.4 1409.3 L1442.3 1408 L1462.2 1406.6 L1482.2 1405 L1502.1 1401.9 L1522 1397.8 L1541.9 1392.9 L1561.8 1387.4 L1581.8 1382.5 L1601.7 1377.8 L1621.6 1373.2 L1641.5 1369.6 L1661.4 1366.8 L1681.4 1364.7 L1701.3 1362.5 L1721.2 1360.8 L1741.1 1360 L1761 1359.7 L1781 1360.5 L1800.9 1360.8 L1820.8 1359.7 L1840.7 1355.8 L1860.6 1347.5 L1880.6 1338.1 L1900.5 1328.7 L1920.4 1320.1 L1940.3 1312.6 L1960.2 1307.3 L1980.2 1303.7 L2000.1 1301.8 L2020 1299.9 L2039.9 1299.1 L2059.8 1298.8 L2079.8 1298.5 L2099.7 1297.4 L2119.6 1298.2 L2139.5 1299.3 L2159.4 1301.3 L2179.4 1303.8 L2199.3 1306.8 L2219.2 1310.1 L2239.1 1314.6 L2259 1320.9 L2279 1328.9 L2298.9 1337.1 L2318.8 1345.7 L2338.7 1353.2 L2358.6 1360.7 L2378.6 1369.4 L2398.5 1377.2 L2418.4 1383.5 L2438.3 1388.5 L2458.2 1392.2 L2478.2 1394.2 L2498.1 1395.8 L2518 1397.8 L2537.9 1399.8 L2557.8 1401.5 L2577.8 1403.5 L2597.7 1405.5 L2617.6 1407.5 L2637.5 1409.5 L2657.4 1411.3 L2677.4 1413.3 L2697.3 1415.8 L2717.2 1419 L2737.1 1422.3" stroke="#f23645" stroke-width="2" fill="none" stroke-linejoin="round"/>
</g>
<g clip-path="url(#cpRsi)">
<path d="M1837.2 1541.8 L1840.7 1539.9 L1860.6 1496.8 L1880.2 1541.8 Z" fill="url(#gOB)"/>
<path d="M1905.2 1541.8 L1920.4 1534.7 L1928.3 1541.8 Z" fill="url(#gOB)"/>
<path d="M28 1688.6 L28 1689.2 L29.3 1688.6 Z" fill="url(#gOS)"/>
<path d="M359.6 1688.6 L366.6 1699.6 L386.6 1696.8 L406.5 1703.7 L426.4 1696 L446.3 1700.7 L466.2 1688.6 Z" fill="url(#gOS)"/>
<path d="M620.7 1688.6 L625.6 1693.8 L645.5 1703.2 L661.1 1688.6 Z" fill="url(#gOS)"/>
<path d="M2688.6 1688.6 L2697.3 1694.2 L2717.2 1698.8 L2737.1 1694.8 L2737.1 1688.6 Z" fill="url(#gOS)"/>
<path d="M20 1541.8 H3079 M20 1688.6 H3079" stroke="#6a6d78" stroke-width="2" stroke-dasharray="10 12" fill="none"/>
<path d="M20 1614.7 H3079" stroke="#aeb0b6" stroke-width="2" stroke-dasharray="10 12" fill="none"/>
<path d="M20 1656.8 L28 1658.5 L47.9 1662.9 L67.8 1665.9 L87.8 1668.4 L107.7 1670.3 L127.6 1671.4 L147.5 1672.7 L167.4 1673 L187.4 1672.2 L207.3 1669.5 L227.2 1668.6 L247.1 1667.5 L267 1665.9 L287 1664.2 L306.9 1663.7 L326.8 1662.3 L346.7 1661.5 L366.6 1663.4 L386.6 1665.1 L406.5 1668.1 L426.4 1671.1 L446.3 1675.5 L466.2 1678.2 L486.2 1676.8 L506.1 1677.4 L526 1677.4 L545.9 1677.4 L565.8 1677.7 L585.8 1676.8 L605.7 1677.4 L625.6 1679 L645.5 1679.6 L665.4 1678.8 L685.4 1676.3 L705.3 1674.9 L725.2 1672.2 L745.1 1670.3 L765 1673 L785 1672.2 L804.9 1671.6 L824.8 1670.8 L844.7 1670.3 L864.6 1669.5 L884.6 1668.4 L904.5 1665.1 L924.4 1659.3 L944.3 1654.4 L964.2 1649.7 L984.2 1645.3 L1004.1 1643.2 L1024 1642.1 L1043.9 1641.2 L1063.8 1640.7 L1083.8 1638.8 L1103.7 1639.3 L1123.6 1639 L1143.5 1637.4 L1163.4 1635.8 L1183.4 1637.7 L1203.3 1640.7 L1223.2 1645.3 L1243.1 1647.5 L1263 1650 L1283 1650 L1302.9 1648.1 L1322.8 1646.2 L1342.7 1644.8 L1362.6 1644.8 L1382.6 1644.2 L1402.5 1643.4 L1422.4 1643.4 L1442.3 1642.9 L1462.2 1641 L1482.2 1638.2 L1502.1 1631.4 L1522 1627.3 L1541.9 1622.3 L1561.8 1618.5 L1581.8 1615.8 L1601.7 1612.7 L1621.6 1609.5 L1641.5 1606.4 L1661.4 1604 L1681.4 1600.4 L1701.3 1597.1 L1721.2 1595.2 L1741.1 1593.8 L1761 1593.6 L1781 1595.8 L1800.9 1597.7 L1820.8 1596 L1840.7 1593.3 L1860.6 1587.8 L1880.6 1584.5 L1900.5 1581 L1920.4 1576.3 L1940.3 1572.2 L1960.2 1571.6 L1980.2 1570.8 L2000.1 1569.7 L2020 1565.9 L2039.9 1563.4 L2059.8 1560.7 L2079.8 1557.5 L2099.7 1558 L2119.6 1562.1 L2139.5 1569.1 L2159.4 1573.1 L2179.4 1576.6 L2199.3 1580.6 L2219.2 1584.1 L2239.1 1586.7 L2259 1591.9 L2279 1596.6 L2298.9 1602.4 L2318.8 1607.3 L2338.7 1612.5 L2358.6 1618.9 L2378.6 1627.8 L2398.5 1632.8 L2418.4 1636.5 L2438.3 1640.3 L2458.2 1642.6 L2478.2 1644.4 L2498.1 1646.1 L2518 1648.4 L2537.9 1648.7 L2557.8 1649 L2577.8 1649.6 L2597.7 1650.7 L2617.6 1652.2 L2637.5 1652.5 L2657.4 1651.3 L2677.4 1652.5 L2697.3 1655.7 L2717.2 1659.4 L2737.1 1664.3" stroke="#fdd835" stroke-width="2" fill="none" stroke-linejoin="round"/>
<path d="M20 1689.2 L28 1689.2 L47.9 1679.9 L67.8 1682.9 L87.8 1672.7 L107.7 1674.7 L127.6 1656.8 L147.5 1658.5 L167.4 1643.4 L187.4 1643.7 L207.3 1651.6 L227.2 1659.6 L247.1 1667 L267 1660.4 L287 1660.4 L306.9 1678.2 L326.8 1664 L346.7 1668.6 L366.6 1699.6 L386.6 1696.8 L406.5 1703.7 L426.4 1696 L446.3 1700.7 L466.2 1688.6 L486.2 1628.1 L506.1 1669.2 L526 1669.2 L545.9 1660.1 L565.8 1663.4 L585.8 1666.4 L605.7 1672.7 L625.6 1693.8 L645.5 1703.2 L665.4 1684.5 L685.4 1670.8 L705.3 1677.4 L725.2 1665.3 L745.1 1658.5 L765 1666.7 L785 1657.1 L804.9 1663.4 L824.8 1644.5 L844.7 1655.8 L864.6 1657.9 L884.6 1657.9 L904.5 1647.3 L924.4 1626.7 L944.3 1612.5 L964.2 1605.6 L984.2 1614.1 L1004.1 1631.6 L1024 1648.4 L1043.9 1652.5 L1063.8 1652.2 L1083.8 1635.8 L1103.7 1652.2 L1123.6 1654.9 L1143.5 1633.8 L1163.4 1637.9 L1183.4 1668.4 L1203.3 1667.3 L1223.2 1677.4 L1243.1 1636.6 L1263 1646.7 L1283 1633 L1302.9 1619.6 L1322.8 1628.4 L1342.7 1635.2 L1362.6 1643.2 L1382.6 1640.4 L1402.5 1637.7 L1422.4 1633.6 L1442.3 1634.4 L1462.2 1639 L1482.2 1627 L1502.1 1583.2 L1522 1583.4 L1541.9 1575.8 L1561.8 1578.8 L1581.8 1578.2 L1601.7 1586.7 L1621.6 1587.8 L1641.5 1602.9 L1661.4 1610.5 L1681.4 1587.3 L1701.3 1584.8 L1721.2 1604.8 L1741.1 1621 L1761 1620.7 L1781 1615.2 L1800.9 1616 L1820.8 1550.8 L1840.7 1539.9 L1860.6 1496.8 L1880.6 1542.6 L1900.5 1544 L1920.4 1534.7 L1940.3 1552.7 L1960.2 1579 L1980.2 1576.8 L2000.1 1589.5 L2020 1566.7 L2039.9 1582.1 L2059.8 1579.8 L2079.8 1569.9 L2099.7 1556.3 L2119.6 1594.3 L2139.5 1594.5 L2159.4 1594.8 L2179.4 1593.4 L2199.3 1593.4 L2219.2 1604.4 L2239.1 1616.3 L2259 1651.6 L2279 1653 L2298.9 1650.4 L2318.8 1646.7 L2338.7 1650.4 L2358.6 1659.1 L2378.6 1683.7 L2398.5 1663.5 L2418.4 1648.7 L2438.3 1650.4 L2458.2 1625.5 L2478.2 1618 L2498.1 1628.7 L2518 1649.9 L2537.9 1651.3 L2557.8 1655.4 L2577.8 1659.7 L2597.7 1664.6 L2617.6 1670.4 L2637.5 1666.4 L2657.4 1665.2 L2677.4 1681.4 L2697.3 1694.2 L2717.2 1698.8 L2737.1 1694.8" stroke="#7e57c2" stroke-width="2" fill="none" stroke-linejoin="round"/>
</g>
<path d="M3079 54 V1782" stroke="#f8f8fa" stroke-width="2" fill="none"/>
<g stroke="#e0e3eb" stroke-width="2" fill="none">
<path d="M20 1269 H3230"/>
<path d="M20 1471 H3230"/>
</g>
<g stroke="#f3f3f5" stroke-width="2" fill="none">
<path d="M20 1726.5 H3230" stroke="#f5f5f7"/>
<rect x="20" y="54" width="3210" height="1728"/>
</g>
<text x="37" y="94" font-size="24" fill="#131722" stroke="#131722" stroke-width="0.2" textLength="407" lengthAdjust="spacingAndGlyphs">Dogecoin / TetherUS · 1D · BINANCE</text>
<text x="459.5" y="94" font-size="24" fill="#131722" stroke="#131722" stroke-width="0.2" textLength="104" lengthAdjust="spacingAndGlyphs">O0.15128</text>
<text x="579" y="94" font-size="24" fill="#131722" stroke="#131722" stroke-width="0.2" textLength="107.5" lengthAdjust="spacingAndGlyphs">H0.15308</text>
<text x="702.5" y="94" font-size="24" fill="#131722" stroke="#131722" stroke-width="0.2" textLength="103.5" lengthAdjust="spacingAndGlyphs">L0.15063</text>
<text x="821.5" y="94" font-size="24" fill="#131722" stroke="#131722" stroke-width="0.2" textLength="105.7" lengthAdjust="spacingAndGlyphs">C0.15224</text>
<text x="943" y="94" font-size="24" fill="#131722" stroke="#131722" stroke-width="0.2" textLength="221.5" lengthAdjust="spacingAndGlyphs">+0.00095 (+0.63%)</text>
<text x="37" y="128" font-size="24" fill="#131722" stroke="#131722" stroke-width="0.2" textLength="122.5" lengthAdjust="spacingAndGlyphs">Vol · DOGE</text>
<text x="174.6" y="128" font-size="24" fill="#26a69a" stroke="#26a69a" stroke-width="0.2" textLength="99" lengthAdjust="spacingAndGlyphs">129.96 M</text>
<text x="37" y="1310.5" font-size="24" fill="#131722" stroke="#131722" stroke-width="0.2" textLength="69" lengthAdjust="spacingAndGlyphs">MACD</text>
<text x="121.4" y="1310.5" font-size="24" fill="#ffcdd2" stroke="#ffcdd2" stroke-width="0.2" textLength="106.6" lengthAdjust="spacingAndGlyphs">−0.00237</text>
<text x="243.8" y="1310.5" font-size="24" fill="#2962ff" stroke="#2962ff" stroke-width="0.2" textLength="104.2" lengthAdjust="spacingAndGlyphs">−0.01205</text>
<text x="363.6" y="1310.5" font-size="24" fill="#f23645" stroke="#f23645" stroke-width="0.2" textLength="109.4" lengthAdjust="spacingAndGlyphs">−0.00969</text>
<text x="37" y="1512.5" font-size="24" fill="#131722" stroke="#131722" stroke-width="0.2" textLength="34.8" lengthAdjust="spacingAndGlyphs">RSI</text>
<text x="88.2" y="1512.5" font-size="24" fill="#7e57c2" stroke="#7e57c2" stroke-width="0.2" textLength="63.3" lengthAdjust="spacingAndGlyphs">28.46</text>
<text x="167.7" y="1512.5" font-size="24" fill="#fdd835" stroke="#fdd835" stroke-width="0.2" textLength="61.9" lengthAdjust="spacingAndGlyphs">36.78</text>
<text x="3097.2" y="149.2" font-size="24.5" fill="#131722" stroke="#131722" stroke-width="0.2" textLength="95.4" lengthAdjust="spacingAndGlyphs">0.30000</text>
<text x="3097.2" y="262.2" font-size="24.5" fill="#131722" stroke="#131722" stroke-width="0.2" textLength="95.4" lengthAdjust="spacingAndGlyphs">0.28000</text>
<text x="3097.2" y="488.1" font-size="24.5" fill="#131722" stroke="#131722" stroke-width="0.2" textLength="95.4" lengthAdjust="spacingAndGlyphs">0.24000</text>
<text x="3097.2" y="601.1" font-size="24.5" fill="#131722" stroke="#131722" stroke-width="0.2" textLength="95.4" lengthAdjust="spacingAndGlyphs">0.22000</text>
<text x="3097.2" y="714.1" font-size="24.5" fill="#131722" stroke="#131722" stroke-width="0.2" textLength="95.4" lengthAdjust="spacingAndGlyphs">0.20000</text>
<text x="3097.2" y="827" font-size="24.5" fill="#131722" stroke="#131722" stroke-width="0.2" textLength="95.4" lengthAdjust="spacingAndGlyphs">0.18000</text>
<text x="3097.2" y="940" font-size="24.5" fill="#131722" stroke="#131722" stroke-width="0.2" textLength="95.4" lengthAdjust="spacingAndGlyphs">0.16000</text>
<text x="3097.2" y="1165.9" font-size="24.5" fill="#131722" stroke="#131722" stroke-width="0.2" textLength="95.4" lengthAdjust="spacingAndGlyphs">0.12000</text>
<rect x="3086.4" y="62" width="135.4" height="51.6" rx="7.5" ry="7.5" fill="#fff" stroke="#f0f1f3" stroke-width="2"/>
<text x="3105.6" y="96" font-size="24" fill="#131722" stroke="#131722" stroke-width="0.2" textLength="62.4" lengthAdjust="spacingAndGlyphs">USDT</text>
<path d="M3080 197.9 H3200 a4 4 0 0 1 4 4 V227.9 a4 4 0 0 1 -4 4 H3080 Z" fill="#673ab7"/>
<text x="3097.2" y="223.4" font-size="24.5" fill="#fff" stroke="#fff" stroke-width="0.2" textLength="95.4" lengthAdjust="spacingAndGlyphs">0.28676</text>
<path d="M3080 350.7 H3200 a4 4 0 0 1 4 4 V380.7 a4 4 0 0 1 -4 4 H3080 Z" fill="#673ab7"/>
<text x="3097.2" y="376.2" font-size="24.5" fill="#fff" stroke="#fff" stroke-width="0.2" textLength="95.4" lengthAdjust="spacingAndGlyphs">0.25970</text>
<path d="M3080 649.7 H3200 a4 4 0 0 1 4 4 V679.7 a4 4 0 0 1 -4 4 H3080 Z" fill="#2e2e2e"/>
<text x="3097.2" y="675.2" font-size="24.5" fill="#fff" stroke="#fff" stroke-width="0.2" textLength="95.4" lengthAdjust="spacingAndGlyphs">0.20672</text>
<path d="M3080 851.6 H3200 a4 4 0 0 1 4 4 V881.6 a4 4 0 0 1 -4 4 H3080 Z" fill="#2e2e2e"/>
<text x="3097.2" y="877.1" font-size="24.5" fill="#fff" stroke="#fff" stroke-width="0.2" textLength="95.4" lengthAdjust="spacingAndGlyphs">0.17105</text>
<path d="M3080 889.5 H3200 a4 4 0 0 1 4 4 V919.5 a4 4 0 0 1 -4 4 H3080 Z" fill="#673ab7"/>
<text x="3097.2" y="915" font-size="24.5" fill="#fff" stroke="#fff" stroke-width="0.2" textLength="95.4" lengthAdjust="spacingAndGlyphs">0.16426</text>
<path d="M3080 958.2 H3208 a4 4 0 0 1 4 4 V1015.7 a4 4 0 0 1 -4 4 H3080 Z" fill="#d1d4dc"/>
<text x="3097.2" y="982.9" font-size="24.5" fill="#131722" stroke="#131722" stroke-width="0.2" textLength="95.4" lengthAdjust="spacingAndGlyphs">0.15224</text>
<text x="3099" y="1010.8" font-size="24.5" fill="#434651" stroke="#434651" stroke-width="0.2" textLength="100" lengthAdjust="spacingAndGlyphs">19:56:02</text>
<path d="M3080 1020.2 H3200 a4 4 0 0 1 4 4 V1050.2 a4 4 0 0 1 -4 4 H3080 Z" fill="#2e2e2e"/>
<text x="3097.2" y="1045.7" font-size="24.5" fill="#fff" stroke="#fff" stroke-width="0.2" textLength="95.4" lengthAdjust="spacingAndGlyphs">0.14280</text>
<path d="M3080 1084.2 H3200 a4 4 0 0 1 4 4 V1114.2 a4 4 0 0 1 -4 4 H3080 Z" fill="#673ab7"/>
<text x="3097.2" y="1109.7" font-size="24.5" fill="#fff" stroke="#fff" stroke-width="0.2" textLength="95.4" lengthAdjust="spacingAndGlyphs">0.12986</text>
<path d="M3080 1233.9 H3210 a4 4 0 0 1 4 4 V1263.8 a4 4 0 0 1 -4 4 H3080 Z" fill="#26a69a"/>
<text x="3098.6" y="1258.8" font-size="24.5" fill="#fff" stroke="#fff" stroke-width="0.2" textLength="103.8" lengthAdjust="spacingAndGlyphs">129.96 M</text>
<g clip-path="url(#cpAxMacd)">
<text x="3098.6" y="1380" font-size="24.5" fill="#131722" stroke="#131722" stroke-width="0.2" textLength="93.2" lengthAdjust="spacingAndGlyphs">0.00000</text>
<path d="M3080 1367 H3215.6 a4 4 0 0 1 4 4 V1396.4 a4 4 0 0 1 -4 4 H3080 Z" fill="#ffcdd2"/>
<text x="3097.2" y="1391.5" font-size="24.5" fill="#131722" stroke="#131722" stroke-width="0.2" textLength="110" lengthAdjust="spacingAndGlyphs">−0.00237</text>
<path d="M3080 1406.3 H3215.6 a4 4 0 0 1 4 4 V1435.6 a4 4 0 0 1 -4 4 H3080 Z" fill="#f23645"/>
<text x="3097.2" y="1430.4" font-size="24.5" fill="#fff" stroke="#fff" stroke-width="0.2" textLength="110" lengthAdjust="spacingAndGlyphs">−0.00969</text>
<path d="M3080 1440.2 H3215.6 a4 4 0 0 1 4 4 V1469.6 a4 4 0 0 1 -4 4 H3080 Z" fill="#2962ff"/>
<text x="3097.2" y="1464.3" font-size="24.5" fill="#fff" stroke="#fff" stroke-width="0.2" textLength="110" lengthAdjust="spacingAndGlyphs">−0.01205</text>
</g>
<text x="3097.2" y="1513" font-size="24.5" fill="#131722" stroke="#131722" stroke-width="0.2" textLength="64.8" lengthAdjust="spacingAndGlyphs">80.00</text>
<text x="3097.2" y="1587.1" font-size="24.5" fill="#131722" stroke="#131722" stroke-width="0.2" textLength="64.8" lengthAdjust="spacingAndGlyphs">60.00</text>
<text x="3097.2" y="1659.9" font-size="24.5" fill="#131722" stroke="#131722" stroke-width="0.2" textLength="64.8" lengthAdjust="spacingAndGlyphs">40.00</text>
<path d="M3080 1643.9 H3169.8 a4 4 0 0 1 4 4 V1674 a4 4 0 0 1 -4 4 H3080 Z" fill="#fdd835"/>
<text x="3097.2" y="1669.2" font-size="24.5" fill="#131722" stroke="#131722" stroke-width="0.2" textLength="64.6" lengthAdjust="spacingAndGlyphs">36.78</text>
<path d="M3080 1678 H3169.8 a4 4 0 0 1 4 4 V1707.7 a4 4 0 0 1 -4 4 H3080 Z" fill="#7e57c2"/>
<text x="3097.2" y="1702.4" font-size="24.5" fill="#fff" stroke="#fff" stroke-width="0.2" textLength="64.6" lengthAdjust="spacingAndGlyphs">28.46</text>
<text x="466.2" y="1764" font-size="25" fill="#131722" text-anchor="middle" font-weight="bold">Mar</text>
<text x="1083.8" y="1764" font-size="25" fill="#131722" text-anchor="middle" font-weight="bold">Apr</text>
<text x="1681.4" y="1764" font-size="25" fill="#131722" text-anchor="middle" font-weight="bold">May</text>
<text x="2298.9" y="1764" font-size="25" fill="#131722" text-anchor="middle" font-weight="bold">Jun</text>
<text x="2896.5" y="1764" font-size="25" fill="#131722" text-anchor="middle" font-weight="bold">Jul</text>
<g fill="#131313">
<path d="M20 1806.2 H35.6 V1825.6 H27.4 V1813.6 H20 Z"/>
<circle cx="42.1" cy="1810.5" r="4.1"/>
<path d="M50.6 1806.2 H59.1 L50.9 1825.6 H42.4 Z"/>
</g>
<text x="67" y="1826.6" font-size="25.5" fill="#131313" stroke="#131313" stroke-width="0.2" textLength="147.8" lengthAdjust="spacingAndGlyphs">TradingView</text>
</svg>
</body></html>
